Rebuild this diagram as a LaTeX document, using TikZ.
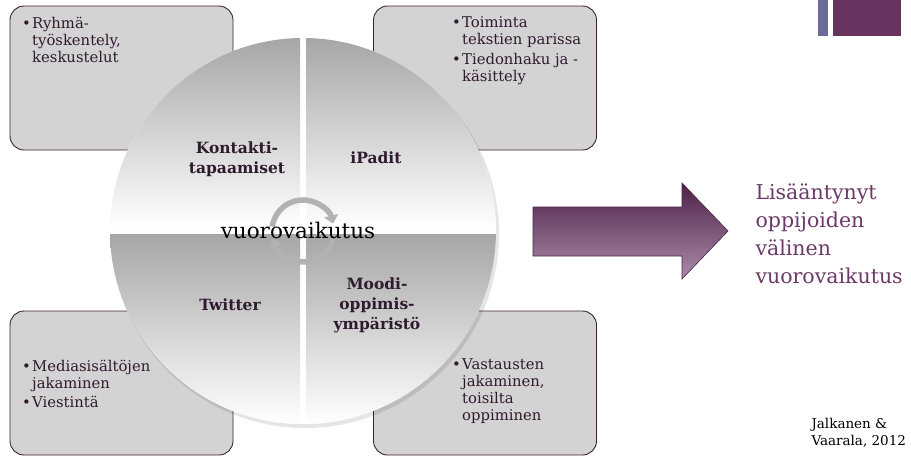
\documentclass[tikz,border=0pt]{standalone}
\usepackage{fontspec}
\setmainfont{DejaVu Serif}
\usetikzlibrary{arrows.meta, positioning}

\definecolor{boxfill}{HTML}{D3D3D3}
\definecolor{boxline}{HTML}{3B2138}
\definecolor{darktxt}{HTML}{2F1B2E}
\definecolor{lilatxt}{HTML}{6B3A68}
\definecolor{qgrey}{HTML}{A6A6A6}
\definecolor{arrtop}{HTML}{4E2248}
\definecolor{arrbot}{HTML}{AA8CA7}
\definecolor{barblue}{HTML}{6B6B9B}
\definecolor{barlila}{HTML}{66345F}

\newcommand{\bul}{\makebox[10pt][l]{\textbullet}}
\newcommand{\ind}{\hspace*{10pt}}

\begin{document}
\begin{tikzpicture}[
    x=1pt, y=-1pt,
    infobox/.style={rectangle, rounded corners=14pt, draw=boxline, line width=0.9pt, fill=boxfill, minimum width=223pt, minimum height=144pt, inner sep=0pt},
    boxtext/.style={align=left, text=darktxt, font=\fontsize{14.8}{17}\selectfont, inner sep=0pt, anchor=north west},
    quadlabel/.style={align=center, text=darktxt, font=\fontsize{15.5}{20}\selectfont\bfseries},
    quad/.style={top color=qgrey, bottom color=white, draw=none},
    ring/.style={gray!60, line width=5.5pt, -{Triangle[length=8pt,width=14pt]}},
    bigarrow/.style={top color=arrtop, bottom color=arrbot, draw=arrtop, line width=0.6pt}
]
\useasboundingbox (0,0) rectangle (911,456);

% Boxes
\node[infobox] (b1) at (121.5,78) {};
\node[infobox] (b2) at (485,78) {};
\node[infobox] (b3) at (121.5,383) {};
\node[infobox] (b4) at (485,383) {};

\node[boxtext] (t1) at (22,17) {\bul Ryhmä-\\\ind työskentely,\\\ind keskustelut};
\node[boxtext] (t2) at (452,16) {\bul Toiminta\\\ind tekstien parissa\\[3pt]\bul Tiedonhaku ja -\\\ind käsittely};
\node[boxtext] (t3) at (22,360) {\bul Mediasisältöjen\\\ind jakaminen\\[2pt]\bul Viestintä};
\node[boxtext] (t4) at (452,359) {\bul Vastausten\\\ind jakaminen,\\\ind toisilta\\\ind oppiminen};

% Circle
\coordinate (c) at (303,231);
\fill[black, opacity=0.10] (305,234) circle (194);
\fill[white] (c) circle (193);
\begin{scope}
\clip (c) circle (193);
\shade[quad] (110,38) rectangle (300,228);
\shade[quad] (306,38) rectangle (496,228);
\shade[quad] (110,234) rectangle (300,424);
\shade[quad] (306,234) rectangle (496,424);
\end{scope}

\node[quadlabel] (q1) at (237,159) {Kontakti-\\tapaamiset};
\node[quadlabel] (q2) at (376,158) {iPadit};
\node[quadlabel] (q3) at (230,305) {Twitter};
\node[quadlabel] (q4) at (377,305) {Moodi-\\oppimis-\\ympäristö};

% Center
\draw[ring] (c) ++(-172:31) arc[start angle=-172, end angle=-14, radius=31];
\draw[ring] (c) ++(8:31) arc[start angle=8, end angle=166, radius=31];
\node[font=\fontsize{21.5}{24}\selectfont] (mid) at (298,230) {vuorovaikutus};

% Arrow
\shade[bigarrow] (533,207) -- (682,207) -- (682,183) -- (728,231) -- (682,279) -- (682,256) -- (533,256) -- cycle;
\node[align=left, anchor=west, text=lilatxt, font=\fontsize{20.5}{28}\selectfont] (res) at (752,234) {Lisääntynyt\\oppijoiden\\välinen\\vuorovaikutus};

% Source
\node[align=left, anchor=west, text=black, font=\fontsize{13.5}{17}\selectfont] (src) at (808,433) {Jalkanen \&\\Vaarala, 2012};

% Bars
\fill[barblue] (818,0) rectangle (828,36);
\fill[barlila] (833,0) rectangle (901,36);
\end{tikzpicture}
\end{document}
